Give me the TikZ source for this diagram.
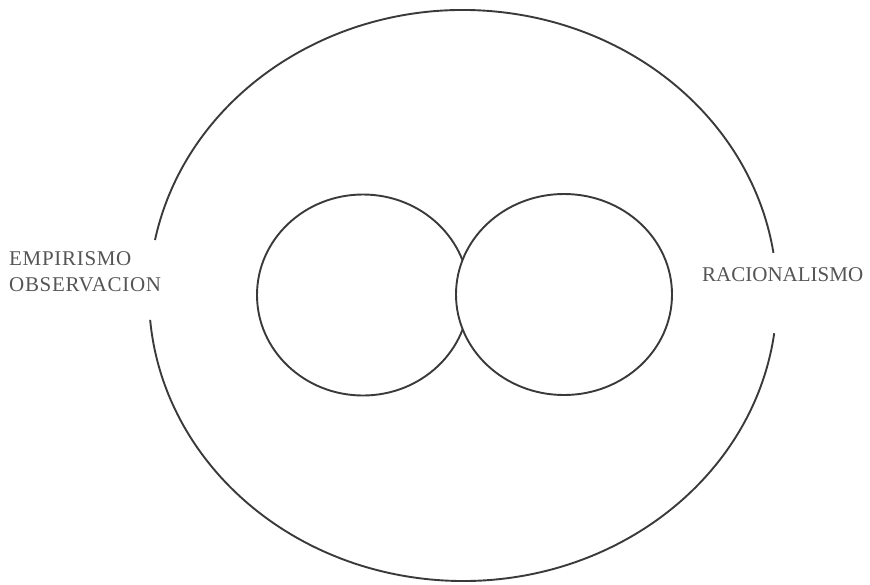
\documentclass[tikz,border=0pt]{standalone}
\usepackage{fontspec}
\setmainfont{Liberation Serif}
\definecolor{linegray}{HTML}{3A3A3A}
\definecolor{textgray}{HTML}{555555}
\tikzset{
  ring/.style={draw=linegray, line width=1.9pt},
  label/.style={text=textgray, font=\fontsize{21}{24}\selectfont, inner sep=0pt, anchor=base west},
  spaced/.style={font=\fontsize{21}{24}\selectfont\addfontfeature{LetterSpace=3.3}}
}
\begin{document}
\begin{tikzpicture}[x=1pt,y=-1pt]
  \useasboundingbox (0,0) rectangle (870,584);
  % outer ellipse with gaps
  \coordinate (oc) at (463,295.5);
  \draw[ring] (oc) ++(7.6:314 and 285.5) arc[start angle=7.6, end angle=175.1, x radius=314, y radius=285.5];
  \draw[ring] (oc) ++(191.2:314 and 285.5) arc[start angle=191.2, end angle=351.4, x radius=314, y radius=285.5];
  % inner circles
  \draw[ring] (363,295) ellipse [x radius=106, y radius=100.5];
  \filldraw[ring, fill=white] (564,294.5) ellipse [x radius=108, y radius=100.5];
  % labels
  \node[label, spaced] (emp) at (9,265) {EMPIRISMO};
  \node[label, spaced] (obs) at (9,291.5) {OBSERVACION};
  \node[label] (rac) at (702,281.5) {RACIONALISMO};
\end{tikzpicture}
\end{document}
